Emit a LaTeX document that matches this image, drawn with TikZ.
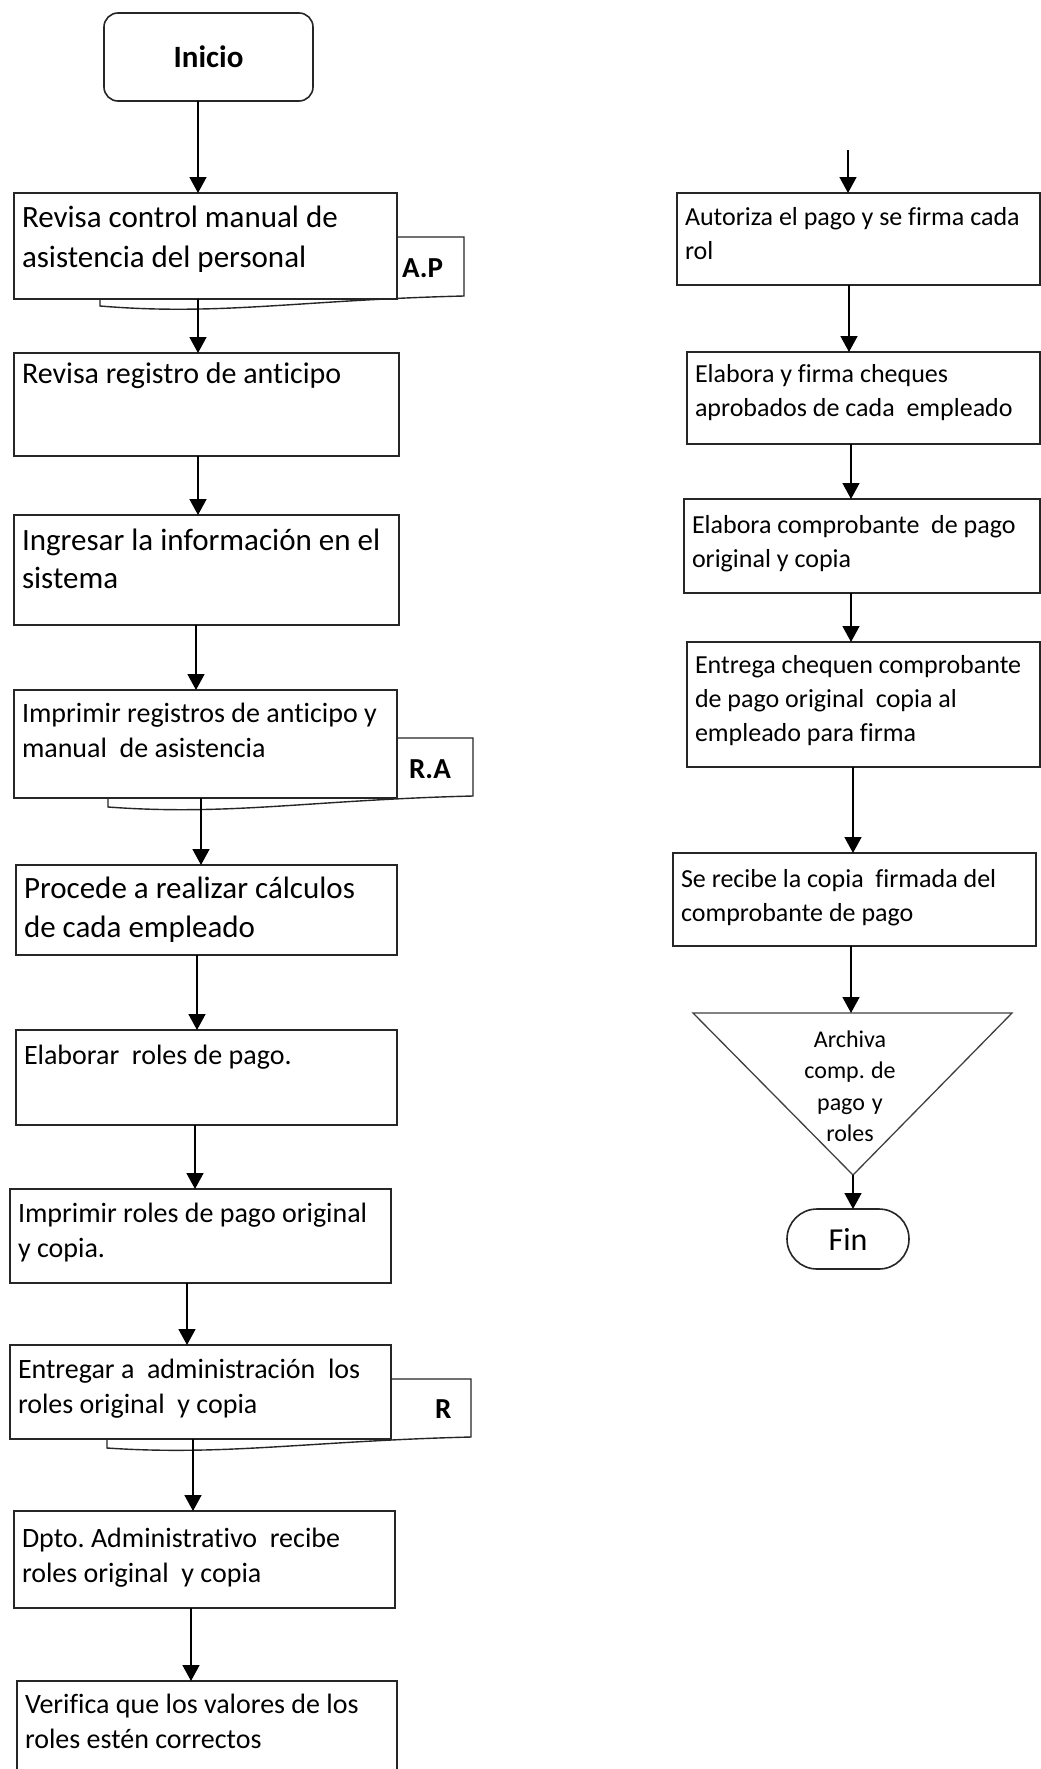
\documentclass[tikz,border=0pt]{standalone}
\usepackage{fontspec}
\setmainfont{Carlito}[Ligatures=NoCommon]
\usetikzlibrary{arrows.meta}
\begin{document}
\begin{tikzpicture}[x=1pt,y=-1pt,
  every node/.style={inner sep=0pt, outer sep=0pt},
  plainspaces/.style={execute at begin node={\frenchspacing\spaceskip=0pt\xspaceskip=0pt}},
  stepbox/.style={draw=black!85, line width=1.6pt, fill=white, rectangle,
    anchor=north west, inner xsep=8pt, inner ysep=0pt, align=left, plainspaces},
  terminal/.style={draw=black!85, line width=1.6pt, fill=white, rectangle},
  docshape/.style={draw=black!85, line width=1.4pt, fill=white},
  tabtext/.style={anchor=base west, font=\fontsize{29}{34}\selectfont\bfseries},
  archive/.style={draw=black!75, line width=1.3pt, fill=white},
  arr/.style={draw=black, line width=1.6pt, -{Triangle[width=17pt,length=16pt]}},
  fbig/.style={font=\fontsize{31}{40}\selectfont},
  fbigb/.style={font=\fontsize{31}{38}\selectfont},
  fmid/.style={font=\fontsize{30}{38}\selectfont},
  fnorm/.style={font=\fontsize{28}{35.5}\selectfont},
  fright/.style={font=\fontsize{26}{34}\selectfont}
]
\path[use as bounding box] (0,0) rectangle (1041,1769);
\fill[white] (0,0) rectangle (1041,1769);
\begin{scope}
\clip (0,0) rectangle (1041,1769);

% ---------- left column ----------
\node[terminal, minimum width=209pt, minimum height=88pt, rounded corners=14pt,
      font=\fontsize{31}{36}\selectfont\bfseries] (ini) at (208.5,57) {Inicio};

% document symbols behind the steps that produce a record
\draw[docshape] (100,306) -- (100,237) -- (464,237) -- (464,296)
  .. controls (300,300) and (220,316) .. (100,306) -- cycle;
\draw[docshape] (108,807) -- (108,738) -- (473,738) -- (473,796)
  .. controls (310,800) and (230,816) .. (108,807) -- cycle;
\draw[docshape] (107,1448) -- (107,1379) -- (471,1379) -- (471,1437)
  .. controls (310,1441) and (225,1456) .. (107,1448) -- cycle;

\node[stepbox, fbig, text width=367pt, text height=34pt, text depth=72pt] (b1) at (14,193)
  {Revisa control manual de\\asistencia del personal};
\node[stepbox, fmid, text width=369pt, text height=30pt, text depth=73pt] (b2) at (14,353)
  {Revisa registro de anticipo};
\node[stepbox, fbigb, text width=369pt, text height=35pt, text depth=75pt] (b3) at (14,515)
  {Ingresar la información en el\\sistema};
\node[stepbox, fnorm, text width=367pt, text height=32pt, text depth=76pt] (b4) at (14,690)
  {Imprimir registros de anticipo y\\manual~ de asistencia};
\node[stepbox, font=\fontsize{31}{39}\selectfont, text width=365pt, text height=33pt, text depth=57pt] (b5) at (16,865)
  {Procede a realizar cálculos\\de cada empleado};
\node[stepbox, fnorm, text width=365pt, text height=34pt, text depth=61pt] (b6) at (16,1030)
  {Elaborar~ roles de pago.};
\node[stepbox, fnorm, text width=365pt, text height=33pt, text depth=61pt] (b7) at (10,1189)
  {Imprimir roles de pago original\\y copia.};
\node[stepbox, fnorm, text width=365pt, text height=33pt, text depth=61pt] (b8) at (10,1345)
  {Entregar a~ administración~ los\\roles original~ y copia};
\node[stepbox, fnorm, text width=365pt, text height=36pt, text depth=61pt] (b9) at (14,1511)
  {Dpto. Administrativo~ recibe\\roles original~ y copia};
\node[stepbox, fnorm, text width=364pt, text height=32pt, text depth=108pt] (b10) at (17,1681)
  {Verifica que los valores de los\\roles estén correctos};

\node[tabtext] (tap) at (402,277) {A.P};
\node[tabtext] (tra) at (409,778) {R.A};
\node[tabtext] (tr) at (435,1418) {R};

% connector columns
\coordinate (c1) at (198,0);
\coordinate (c3) at (196,0);
\coordinate (c4) at (201,0);
\coordinate (c5) at (197,0);
\coordinate (c6) at (195,0);
\coordinate (c7) at (187,0);
\coordinate (c8) at (193,0);
\coordinate (c9) at (191,0);

\draw[arr] (ini.south -| c1) -- (b1.north -| c1);
\draw[arr] (b1.south -| c1) -- (b2.north -| c1);
\draw[arr] (b2.south -| c1) -- (b3.north -| c1);
\draw[arr] (b3.south -| c3) -- (b4.north -| c3);
\draw[arr] (b4.south -| c4) -- (b5.north -| c4);
\draw[arr] (b5.south -| c5) -- (b6.north -| c5);
\draw[arr] (b6.south -| c6) -- (b7.north -| c6);
\draw[arr] (b7.south -| c7) -- (b8.north -| c7);
\draw[arr] (b8.south -| c8) -- (b9.north -| c8);
\draw[arr] (b9.south -| c9) -- (b10.north -| c9);

% ---------- right column ----------
\node[stepbox, fright, text width=347pt, text height=32pt, text depth=60pt] (r1) at (677,193)
  {Autoriza el pago y se firma cada\\rol};
\node[stepbox, fright, text width=337pt, text height=30pt, text depth=62pt] (r2) at (687,352)
  {Elabora y firma cheques\\aprobados de cada~ empleado};
\node[stepbox, fright, text width=340pt, text height=34pt, text depth=60pt] (r3) at (684,499)
  {Elabora comprobante~ de pago\\original y copia};
\node[stepbox, fright, text width=337pt, text height=31pt, text depth=94pt] (r4) at (687,642)
  {Entrega chequen comprobante\\de pago original~ copia al\\empleado para firma};
\node[stepbox, fright, text width=347pt, text height=34pt, text depth=59pt] (r5) at (673,853)
  {Se recibe la copia~ firmada del\\comprobante de pago};

% archive symbol
\draw[archive] (693,1013) -- (1012,1013) -- (853,1175) -- cycle;
\coordinate (tritop) at (853,1013);
\coordinate (triapex) at (853,1175);
\node[anchor=north, text width=120pt, align=center, text height=0pt, plainspaces,
      font=\fontsize{24}{31.5}\selectfont] (arch) at (850,1047)
  {Archiva\\comp. de\\pago y\\roles};

\node[terminal, minimum width=122pt, minimum height=60pt, rounded corners=30pt,
      font=\fontsize{32}{36}\selectfont] (fin) at (848,1239) {Fin};

\coordinate (rstart) at (848,150);
\coordinate (k1) at (849,0);
\coordinate (k2) at (851,0);
\coordinate (k3) at (853,0);

\draw[arr] (rstart) -- (r1.north -| rstart);
\draw[arr] (r1.south -| k1) -- (r2.north -| k1);
\draw[arr] (r2.south -| k2) -- (r3.north -| k2);
\draw[arr] (r3.south -| k2) -- (r4.north -| k2);
\draw[arr] (r4.south -| k3) -- (r5.north -| k3);
\draw[arr] (r5.south -| k2) -- (tritop -| k2);
\draw[arr] (triapex) -- (fin.north -| triapex);
\end{scope}
\end{tikzpicture}
\end{document}
